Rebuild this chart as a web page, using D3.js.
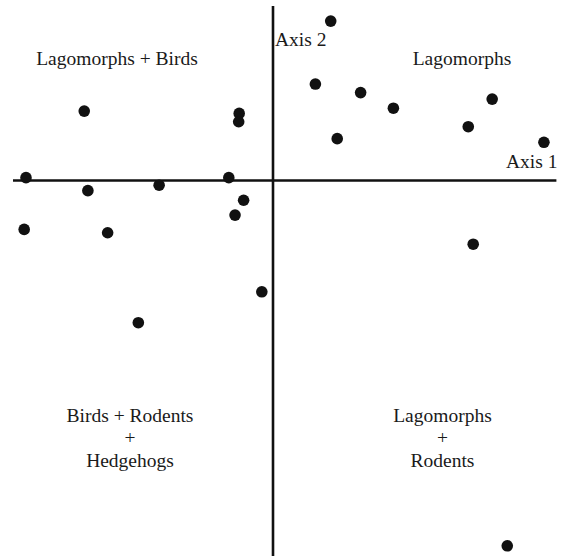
<!DOCTYPE html>
<html>
<head>
<meta charset="utf-8">
<script src="https://cdn.jsdelivr.net/npm/d3@7"></script>
<style>
  body { margin: 0; background: #fff; }
  text { font-family: "Liberation Serif", "Times New Roman", serif; fill: #1a1a1a; }
</style>
</head>
<body>
<div id="chart"></div>
<script>
// ordination scores (axis 1, axis 2)
const axis1 = [0.222, 0.163, 0.337, 0.463, 0.843, 0.751, 1.042, 0.247,
  -0.726, -0.130, -0.132, -0.950, -0.170, -0.712, -0.438, -0.113,
  -0.146, -0.957, -0.636, 0.770, -0.043, -0.518, 0.901];
const axis2 = [0.613, 0.371, 0.338, 0.278, 0.313, 0.207, 0.147, 0.161,
  0.267, 0.258, 0.226, 0.011, 0.011, -0.039, -0.018, -0.076,
  -0.133, -0.188, -0.201, -0.245, -0.428, -0.547, -1.405];

const axis1Extent = [-1.0, 1.09];
const axis2Extent = [-1.444, 0.671];
const axisNames = ["Axis 1", "Axis 2"];
const quadrantLabels = [
  ["Lagomorphs + Birds"],
  ["Lagomorphs"],
  ["Birds + Rodents", "+", "Hedgehogs"],
  ["Lagomorphs", "+", "Rodents"]
];

const width = 568, height = 559;
const cx = 273, cy = 180.5, unit = 260;

const svg = d3.select("#chart")
  .append("svg")
    .attr("width", width)
    .attr("height", height);

const x = d3.scaleLinear().domain([-1, 1]).range([cx - unit, cx + unit]);
const y = d3.scaleLinear().domain([-1, 1]).range([cy + unit, cy - unit]);

// axes through the origin
svg.append("line")
  .attr("x1", x(axis1Extent[0])).attr("x2", x(axis1Extent[1]))
  .attr("y1", y(0)).attr("y2", y(0))
  .attr("stroke", "#111").attr("stroke-width", 2.6);
svg.append("line")
  .attr("x1", x(0)).attr("x2", x(0))
  .attr("y1", y(axis2Extent[0])).attr("y2", y(axis2Extent[1]))
  .attr("stroke", "#111").attr("stroke-width", 2.6);

// axis names
svg.append("text")
  .attr("x", x(axis1Extent[1]) + 1).attr("y", y(0) - 13)
  .attr("text-anchor", "end")
  .style("font-size", "19.5px")
  .text(axisNames[0]);
svg.append("text")
  .attr("x", x(0) + 2).attr("y", 46)
  .style("font-size", "19.5px")
  .text(axisNames[1]);

// quadrant labels
const labelPos = [[117, 65], [462, 65], [130, 421.5], [442.5, 421.5]];
quadrantLabels.forEach((lines, i) => {
  const t = svg.append("text")
    .attr("text-anchor", "middle")
    .style("font-size", "19.5px");
  lines.forEach((s, j) => {
    t.append("tspan")
      .attr("x", labelPos[i][0])
      .attr("y", labelPos[i][1] + j * 22.6)
      .text(s);
  });
});

// points
const points = axis1.map((v, i) => ({a: v, b: axis2[i]}));
svg.selectAll("circle.pt")
  .data(points)
  .join("circle")
    .attr("class", "pt")
    .attr("cx", d => x(d.a))
    .attr("cy", d => y(d.b))
    .attr("r", 5.8)
    .attr("fill", "#111");
</script>
</body>
</html>
